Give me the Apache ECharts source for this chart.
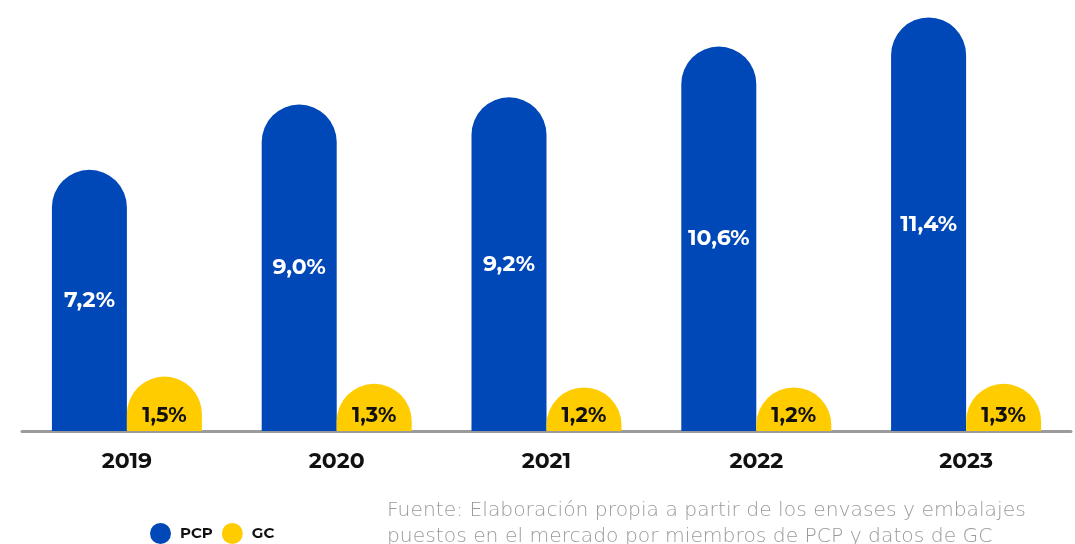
<!DOCTYPE html>
<html>
<head>
<meta charset="utf-8">
<script src="https://cdn.jsdelivr.net/npm/echarts@6/dist/echarts.min.js"></script>
<style>
html,body{margin:0;padding:0;background:#fff;}
#chart{width:1075px;height:544px;}
</style>
</head>
<body>
<div id="chart"></div>
<script>
const years = ['2019', '2020', '2021', '2022', '2023'];
const pcpValues = [7.2, 9.0, 9.2, 10.6, 11.4];
const gcValues = [1.5, 1.3, 1.2, 1.2, 1.3];
const seriesNames = ['PCP', 'GC'];
const sourceText = 'Fuente: Elaboración propia a partir de los envases y embalajes\npuestos en el mercado por miembros de PCP y datos de GC';

const FONT = 'Montserrat, Inter, "Noto Sans", sans-serif';
const fmt = p => p.value.toFixed(1).replace('.', ',') + '%';

const chart = echarts.init(document.getElementById('chart'), null, {renderer: 'canvas'});
chart.setOption({
  animation: false,
  backgroundColor: '#ffffff',
  title: {
    text: sourceText,
    left: 382,
    top: 493,
    textStyle: {
      fontFamily: '"DejaVu Sans", sans-serif',
      fontWeight: 200,
      fontSize: 20.3,
      color: '#9a9a9a',
      lineHeight: 26
    }
  },
  legend: {
    left: 145,
    top: 518,
    icon: 'circle',
    itemWidth: 21,
    itemHeight: 21,
    itemGap: 9,
    data: seriesNames,
    textStyle: {fontFamily: FONT, fontWeight: 700, fontSize: 15, color: '#111', padding: [0, 0, 0, 4]}
  },
  grid: {left: 22, right: 4, top: 3, bottom: 113},
  xAxis: {
    type: 'category',
    data: years,
    axisLine: {show: true, lineStyle: {color: '#9b9b9b', width: 3}},
    axisTick: {show: false},
    axisLabel: {
      margin: 20,
      fontFamily: FONT,
      fontWeight: 700,
      fontSize: 22,
      color: '#111'
    }
  },
  yAxis: {
    type: 'value',
    min: 0,
    max: 11.8,
    show: false,
    splitLine: {show: false}
  },
  series: [
    {
      name: seriesNames[0],
      type: 'bar',
      data: pcpValues,
      barWidth: 75,
      barGap: '0%',
      itemStyle: {color: '#0047b7', borderRadius: [37.5, 37.5, 0, 0]},
      label: {
        show: true,
        position: 'inside',
        formatter: fmt,
        fontFamily: FONT,
        fontWeight: 700,
        fontSize: 22,
        color: '#ffffff'
      }
    },
    {
      name: seriesNames[1],
      type: 'bar',
      data: gcValues,
      barWidth: 75,
      barGap: '0%',
      itemStyle: {color: '#ffcc00', borderRadius: [37.5, 37.5, 0, 0]},
      label: {
        show: true,
        position: 'insideBottom',
        distance: 5,
        formatter: fmt,
        fontFamily: FONT,
        fontWeight: 700,
        fontSize: 21,
        color: '#111111'
      }
    }
  ]
});
</script>
</body>
</html>
